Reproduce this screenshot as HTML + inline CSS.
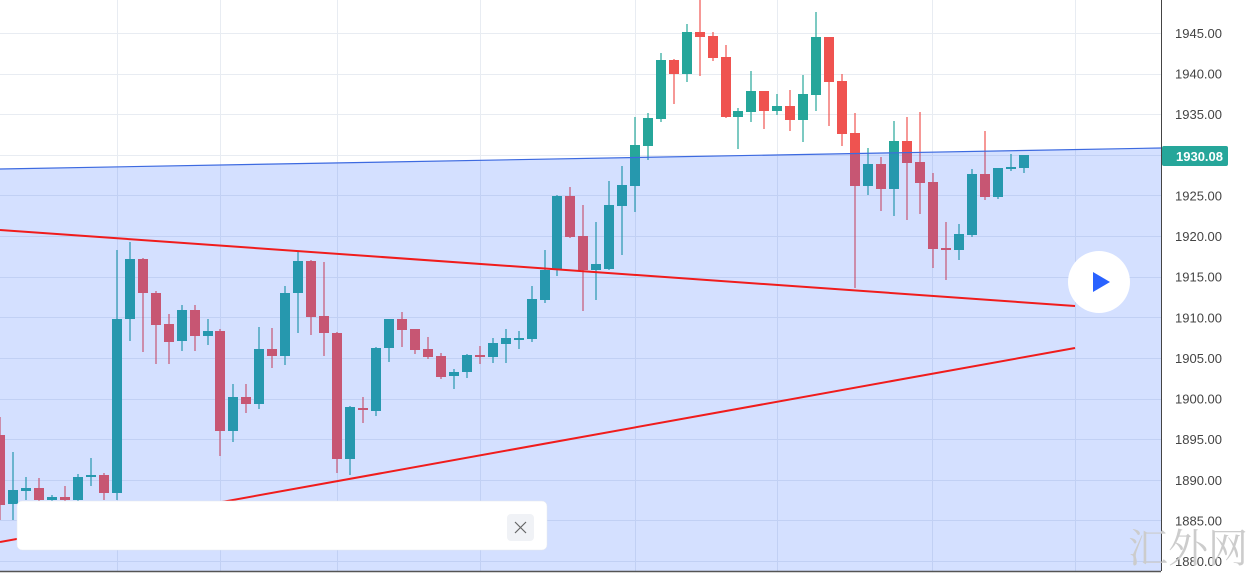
<!DOCTYPE html>
<html><head><meta charset="utf-8"><style>
body{margin:0;width:1256px;height:574px;overflow:hidden;background:#fff;font-family:"Liberation Sans","Noto Sans CJK SC",sans-serif}
svg{position:absolute;left:0;top:0}
</style></head><body>
<svg id="c" width="1256" height="574" xmlns="http://www.w3.org/2000/svg">
<g id="grid" stroke="#e8ecf2" stroke-width="1"></g>
<g id="candles"></g>
<polygon points="0,169 1161,148 1161,571 0,571" fill="rgba(41,98,255,0.2)"/>
<line x1="0" y1="169" x2="1161" y2="148" stroke="#3d6ae0" stroke-width="1.2"/>
<line x1="0" y1="230" x2="1075" y2="306" stroke="#f01c1c" stroke-width="2"/>
<line x1="0" y1="542" x2="1075" y2="348" stroke="#f01c1c" stroke-width="2"/>
<rect x="1161" y="0" width="95" height="574" fill="#fff"/>
<line x1="1161.5" y1="0" x2="1161.5" y2="571" stroke="#444" stroke-width="1"/>
<line x1="0" y1="571.5" x2="1161" y2="571.5" stroke="#555" stroke-width="1.5"/>
<g id="labels" font-size="13" fill="#444" font-family="Liberation Sans, sans-serif"></g>
<rect x="1162" y="146" width="66" height="20" rx="2" fill="#26a69a"/>
<text x="1223" y="161" font-size="13" font-weight="bold" fill="#fff" text-anchor="end">1930.08</text>
<circle cx="1099" cy="282" r="31" fill="#fff"/>
<polygon points="1093,272 1093,292 1110,282" fill="#2962ff"/>
<rect x="17" y="501" width="530" height="49" rx="5" fill="#fff" stroke="#e6e8ee" stroke-width="0.5"/>
<rect x="507" y="514" width="27" height="27" rx="4" fill="#f0f2f6"/>
<path d="M515 522 L526 533 M526 522 L515 533" stroke="#666" stroke-width="1.2"/>
<text x="1128" y="562" font-size="40" fill="#ccc" font-family="Noto Serif CJK SC, serif">汇外网</text>
</svg>
<script>
var g=document.getElementById('grid'),ns='http://www.w3.org/2000/svg';
function el(p,t,a){var e=document.createElementNS(ns,t);for(var k in a)e.setAttribute(k,a[k]);p.appendChild(e);return e;}
[117,220,337,480,635,777,932,1075].forEach(function(x){el(g,'line',{x1:x+.5,y1:0,x2:x+.5,y2:571});});
var L=document.getElementById('labels');
for(var i=0;i<14;i++){var p=1945-5*i,y=33+i*40.62;el(g,'line',{x1:0,y1:Math.round(y)+.5,x2:1161,y2:Math.round(y)+.5});
 if(Math.abs(y-155)>12){var t=el(L,'text',{x:1222,y:y+5,'text-anchor':'end'});t.textContent=p.toFixed(2);}}
var d=[[0,435,505,417,520,'r'],[13,490,504,452,520,'g'],[26,488,491,477,500,'g'],[39,488,500,478,505,'r'],[52,497,500,495,505,'g'],[65,497,500,486,505,'r'],[78,477,500,474,505,'g'],[91,475,477,458,486,'g'],[104,475,493,473,500,'r'],[117,319,493,250,500,'g'],[130,259,319,242,341,'g'],[143,259,293,258,352,'r'],[156,293,325,291,364,'r'],[169,324,342,314,364,'r'],[182,310,341,305,351,'g'],[195,310,336,305,351,'r'],[208,331,336,319,345,'g'],[220,331,431,329,456,'r'],[233,397,431,384,442,'g'],[246,397,404,384,413,'r'],[259,349,404,327,409,'g'],[272,349,356,328,368,'r'],[285,293,356,286,365,'g'],[298,261,293,252,333,'g'],[311,261,317,260,335,'r'],[324,316,333,262,356,'r'],[337,333,459,332,473,'r'],[350,407,459,406,475,'g'],[363,408,410,397,423,'r'],[376,348,411,347,416,'g'],[389,319,348,319,362,'g'],[402,319,330,312,347,'r'],[415,329,350,329,354,'r'],[428,349,357,337,359,'r'],[441,356,377,353,379,'r'],[454,372,376,369,389,'g'],[467,355,372,354,378,'g'],[480,355,357,346,364,'r'],[493,343,357,338,363,'g'],[506,338,344,329,363,'g'],[519,338,340,331,349,'g'],[532,299,339,286,342,'g'],[545,270,300,250,303,'g'],[557,196,270,195,276,'g'],[570,196,237,187,238,'r'],[583,236,270,205,311,'r'],[596,264,270,222,300,'g'],[609,205,269,181,270,'g'],[622,185,206,166,255,'g'],[635,145,186,117,212,'g'],[648,118,146,113,160,'g'],[661,60,119,53,122,'g'],[674,60,74,59,104,'r'],[687,32,74,24,82,'g'],[700,32,37,0,76,'r'],[713,36,58,32,61,'r'],[726,57,117,45,118,'r'],[738,111,117,108,149,'g'],[751,91,112,71,122,'g'],[764,91,111,91,129,'r'],[777,106,111,94,115,'g'],[790,106,120,90,131,'r'],[803,94,120,75,142,'g'],[816,37,95,12,111,'g'],[829,37,82,37,126,'r'],[842,81,134,74,146,'r'],[855,133,186,113,288,'r'],[868,164,186,148,195,'g'],[881,164,189,157,211,'r'],[894,141,189,121,216,'g'],[907,141,163,117,220,'r'],[920,162,183,112,214,'r'],[933,182,249,173,268,'r'],[946,248,250,222,280,'r'],[959,234,250,224,260,'g'],[972,174,235,169,237,'g'],[985,174,197,131,200,'r'],[998,168,197,168,199,'g'],[1011,167,169,154,171,'g'],[1024,155,168,155,173,'g']];
var C=document.getElementById('candles');
d.forEach(function(c){var col=c[5]=='r'?'#ef5350':'#26a69a';
 el(C,'rect',{x:c[0]-0.6,y:c[3],width:1.2,height:c[4]-c[3],fill:col});
 el(C,'rect',{x:c[0]-5,y:c[1],width:10,height:Math.max(2,c[2]-c[1]),fill:col});});
</script>
</body></html>
